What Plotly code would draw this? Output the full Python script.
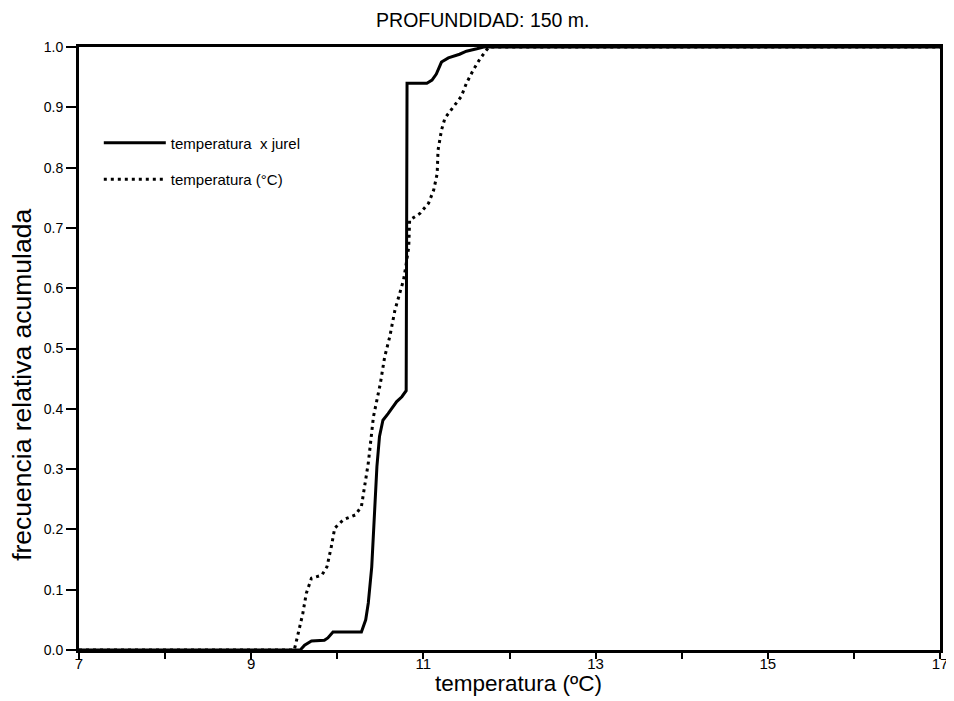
import plotly.graph_objects as go

# curva acumulada: temperatura ponderada por jurel
temp_jurel = [7, 9.57, 9.62, 9.70, 9.85, 9.89, 9.95, 9.99, 10.28, 10.33, 10.36, 10.40,
              10.46, 10.49, 10.53, 10.59, 10.69, 10.75, 10.80, 10.81, 11.04, 11.10,
              11.15, 11.21, 11.29, 11.42, 11.50, 11.62, 11.70, 17]
frec_jurel = [0, 0, 0.008, 0.015, 0.016, 0.02, 0.03, 0.03, 0.03, 0.05, 0.078, 0.138,
              0.304, 0.354, 0.381, 0.392, 0.412, 0.42, 0.43, 0.94, 0.94, 0.945,
              0.955, 0.975, 0.982, 0.988, 0.993, 0.997, 1.0, 1.0]

# curva acumulada: temperatura (°C)
temp = [7, 9.50, 9.55, 9.60, 9.64, 9.70, 9.82, 9.88, 9.93, 9.97, 10.07, 10.21, 10.28,
        10.32, 10.36, 10.42, 10.50, 10.55, 10.61, 10.67, 10.73, 10.77, 10.80, 10.83,
        10.84, 10.96, 11.06, 11.12, 11.16, 11.17, 11.21, 11.25, 11.35, 11.44, 11.50,
        11.58, 11.66, 11.72, 11.76, 17]
frec_temp = [0, 0, 0.03, 0.061, 0.094, 0.119, 0.124, 0.138, 0.171, 0.202, 0.216, 0.224,
             0.238, 0.271, 0.31, 0.387, 0.442, 0.486, 0.52, 0.564, 0.592, 0.614, 0.64,
             0.669, 0.713, 0.724, 0.741, 0.763, 0.79, 0.829, 0.862, 0.882, 0.901, 0.918,
             0.94, 0.962, 0.981, 0.992, 1.0, 1.0]

x_ticks = [7, 8, 9, 10, 11, 12, 13, 14, 15, 16, 17]
x_labels = ["7", "", "9", "", "11", "", "13", "", "15", "", "17"]

FONT = "Liberation Sans, Arial, sans-serif"

fig = go.Figure()

fig.add_trace(go.Scatter(
    x=temp_jurel, y=frec_jurel, mode="lines", name="temperatura  x jurel",
    line=dict(color="black", width=3), legendgroup="a"
))
fig.add_trace(go.Scatter(
    x=temp, y=frec_temp, mode="lines", name="temperatura (°C)",
    line=dict(color="black", width=3, dash="3px,4px"), legendgroup="b"
))

# page body adds 8px margin, so figure is 946x693
fig.update_layout(
    width=946, height=693,
    margin=dict(l=71, r=14, t=39, b=51),
    paper_bgcolor="white", plot_bgcolor="white",
    font=dict(family=FONT, color="black"),
    title=dict(text="PROFUNDIDAD: 150 m.", x=0.469, xref="paper", xanchor="center",
               y=0.983, yanchor="middle", font=dict(size=19.5)),
    showlegend=True,
    legend=dict(x=0.023, y=0.868, xanchor="left", yanchor="top",
                bgcolor="rgba(0,0,0,0)", font=dict(size=15),
                tracegroupgap=14, itemwidth=62),
    annotations=[
        dict(text="frecuencia relativa acumulada", textangle=-90,
             xref="paper", yref="paper", x=-0.066, y=0.44,
             xanchor="center", yanchor="middle", showarrow=False,
             font=dict(size=26.5)),
        dict(text="temperatura (ºC)",
             xref="paper", yref="paper", x=0.51, y=-0.056,
             xanchor="center", yanchor="middle", showarrow=False,
             font=dict(size=22.5)),
    ],
)

fig.update_xaxes(
    range=[7, 17], tickvals=x_ticks, ticktext=x_labels,
    ticks="outside", ticklen=6, tickwidth=2, tickcolor="black",
    tickfont=dict(size=15), automargin=False, ticklabelstandoff=-8,
    showline=True, linewidth=3, linecolor="black", mirror=True,
    showgrid=False, zeroline=False,
)
fig.update_yaxes(
    range=[0, 1], dtick=0.1, tickformat=".1f",
    ticks="outside", ticklen=10, tickwidth=2, tickcolor="black",
    tickfont=dict(size=14), automargin=False,
    showline=True, linewidth=3, linecolor="black", mirror=True,
    showgrid=False, zeroline=False,
)

fig.write_html("out.html")
